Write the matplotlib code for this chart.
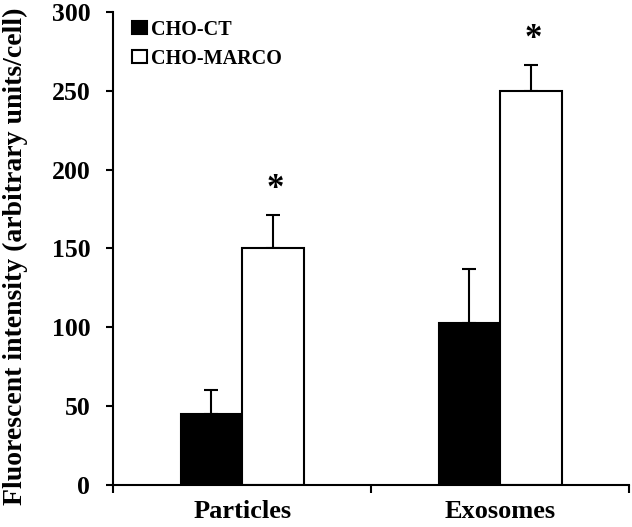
import numpy as np
import matplotlib
matplotlib.use("Agg")
import matplotlib.pyplot as plt

# data
categories = ["Particles", "Exosomes"]
groups = ["CHO-CT", "CHO-MARCO"]
ct_means = [45, 103]
ct_errs = [15, 34]
marco_means = [150, 250]
marco_errs = [21, 16]
yticks = [0, 50, 100, 150, 200, 250, 300]

plt.rcParams['font.family'] = ['Liberation Serif', 'DejaVu Serif']
plt.rcParams['font.weight'] = 'bold'

fig = plt.figure(figsize=(6.32, 5.27), dpi=100)
ax = fig.add_axes([0.179, 0.0797, 0.8165, 0.898])

x = np.arange(len(categories)) + 0.5
w = 0.238

ax.bar(x - w / 2, ct_means, w, color='black', edgecolor='black', linewidth=1.5,
       label=groups[0], zorder=2)
ax.bar(x + w / 2, marco_means, w, color='white', edgecolor='black', linewidth=1.5,
       label=groups[1], zorder=2)

# upper error bars only
ax.errorbar(x - w / 2, ct_means, yerr=[np.zeros(2), ct_errs], fmt='none',
            ecolor='black', elinewidth=1.5, capsize=4.7, capthick=1.5, zorder=1)
ax.errorbar(x + w / 2, marco_means, yerr=[np.zeros(2), marco_errs], fmt='none',
            ecolor='black', elinewidth=1.5, capsize=4.7, capthick=1.5, zorder=1)

# significance stars
for xi, m, e in zip(x + w / 2, marco_means, marco_errs):
    ax.text(xi + 0.008, m + e + 6, '*', ha='center', va='bottom', fontsize=25,
            fontweight='bold')

ax.set_xlim(0, 2)
ax.set_ylim(0, 300)
ax.set_yticks(yticks)
ax.set_xticks([0, 1, 2])
ax.set_xticklabels([])
ax.set_xticks(x, minor=True)
ax.set_xticklabels(categories, minor=True, fontsize=19, fontweight='bold')
ax.tick_params(axis='x', which='minor', length=0, pad=11)
ax.tick_params(axis='x', which='major', length=6, width=1.5, direction='out')
ax.tick_params(axis='y', length=5, width=1.5, direction='out', labelsize=18.5, pad=11.5)

for s in ['top', 'right']:
    ax.spines[s].set_visible(False)
for s in ['left', 'bottom']:
    ax.spines[s].set_linewidth(1.5)

fig.text(0.024, 0.514, 'Fluorescent intensity (arbitrary units/cell)', fontsize=20,
         fontweight='bold', rotation=90, ha='center', va='center')

ax.legend(loc='upper left', bbox_to_anchor=(0.02, 1.0), frameon=False,
          fontsize=14.5, handlelength=0.75, handleheight=0.6, handletextpad=0.2,
          labelspacing=0.45, borderaxespad=0)

fig.savefig('out.png', dpi=100)
